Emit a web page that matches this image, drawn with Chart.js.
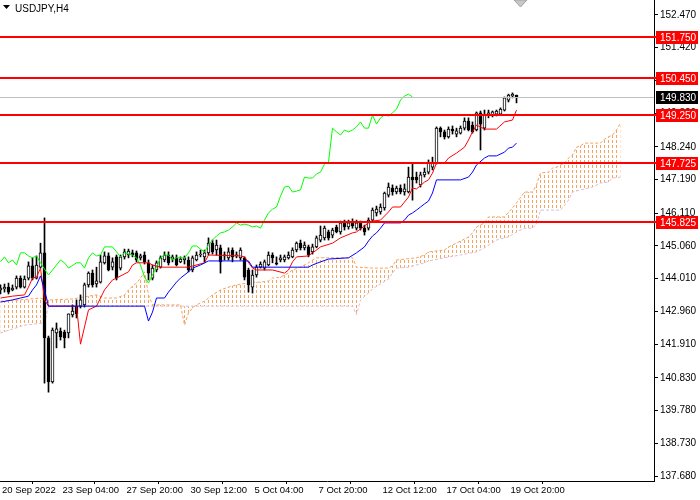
<!DOCTYPE html>
<html><head><meta charset="utf-8">
<script src="https://cdn.jsdelivr.net/npm/chart.js@4.4.1/dist/chart.umd.min.js"></script>
<style>html,body{margin:0;padding:0;background:#fff;overflow:hidden}canvas{display:block}</style>
</head><body>
<canvas id="c" width="700" height="500"></canvas>
<script>
// ---- DATA (USDJPY H4) ----
const symbolTitle = 'USDJPY,H4';
const firstBar = -1; // index of the first candle in the arrays below
const opens  = [143.65,143.68,143.74,143.65,143.74,144.03,143.74,144.03,144.42,144.03,144.38,144.84,142.11,140.70,142.27,142.33,142.30,142.27,142.85,143.13,143.13,143.17,143.81,144.19,143.84,143.90,144.52,144.74,144.38,144.71,144.35,144.71,144.77,144.84,144.84,144.68,144.77,144.52,144.03,144.29,144.38,144.61,144.77,144.64,144.68,144.55,144.61,144.61,144.29,144.61,144.77,144.71,144.84,145.15,144.93,145.00,144.77,144.68,144.93,144.74,144.68,144.68,144.29,143.74,144.13,144.38,144.35,144.45,144.77,144.52,144.61,144.61,144.68,144.71,144.93,145.15,145.00,145.03,144.87,145.03,145.25,145.32,145.51,145.41,145.67,145.51,145.80,145.67,145.80,145.63,145.80,145.63,145.63,145.89,146.12,146.15,146.28,146.69,146.92,146.79,146.92,146.79,146.79,147.27,147.27,147.02,147.34,147.43,147.59,147.72,148.84,148.72,148.56,148.81,148.65,148.68,148.84,149.07,148.94,148.78,149.33,148.84,149.26,149.26,149.29,149.29,149.42,149.74,149.87,149.90];
const highs  = [143.81,143.84,143.87,143.81,144.10,144.10,144.10,144.55,144.68,144.74,145.15,145.96,142.17,142.43,142.59,142.43,142.36,142.88,143.17,143.33,143.49,143.87,144.23,144.29,144.38,144.77,144.87,144.84,144.68,144.77,144.77,144.96,144.96,144.93,144.90,144.80,144.87,144.61,144.45,144.58,144.74,144.87,144.87,144.77,144.77,144.71,144.74,144.71,144.74,144.87,144.93,144.93,145.32,145.25,145.25,145.09,144.87,145.00,145.00,144.87,145.00,144.71,144.35,144.29,144.45,144.55,144.61,144.87,144.84,144.71,144.77,144.77,144.87,145.00,145.19,145.25,145.19,145.09,145.12,145.38,145.70,145.70,145.57,145.63,145.73,145.86,145.89,145.89,145.93,145.89,145.86,145.73,145.96,146.28,146.34,146.41,146.79,147.08,147.02,146.98,147.02,147.05,147.59,147.72,147.43,147.43,147.56,147.82,147.91,148.88,148.88,148.78,148.88,148.91,148.84,148.91,149.17,149.17,149.04,149.36,149.39,149.42,149.42,149.39,149.42,149.49,149.84,149.93,149.97,149.90];
const lows   = [143.52,143.58,143.52,143.62,143.68,143.71,143.71,143.97,143.97,144.00,144.35,140.66,140.37,140.66,141.79,142.04,141.79,142.11,142.78,142.75,143.07,143.10,143.74,143.74,143.74,143.87,144.48,144.26,144.29,143.97,144.29,144.64,144.68,144.71,144.55,144.61,144.48,143.97,143.97,144.23,144.35,144.55,144.45,144.55,144.42,144.52,144.48,144.23,144.23,144.58,144.71,144.55,144.77,144.80,144.77,144.19,144.61,144.61,144.55,144.68,144.61,143.97,143.58,143.55,144.06,144.35,144.29,144.42,144.52,144.45,144.55,144.55,144.64,144.68,144.87,144.93,144.93,144.71,144.80,145.00,145.19,145.25,145.25,145.32,145.48,145.44,145.57,145.60,145.63,145.57,145.57,145.41,145.57,145.86,146.02,146.08,146.21,146.63,146.69,146.73,146.73,146.69,146.76,146.53,147.08,146.95,147.27,147.37,147.50,147.69,148.56,148.49,148.52,148.65,148.56,148.65,148.78,148.75,148.68,148.75,148.14,148.78,149.17,149.20,149.23,149.26,149.39,149.68,149.81,149.65];
const closes = [143.71,143.74,143.58,143.71,144.03,143.74,144.00,144.42,144.03,144.45,144.84,142.11,140.70,142.36,142.40,142.14,142.11,142.88,142.97,142.88,143.33,143.81,144.19,143.81,143.94,144.55,144.74,144.29,144.55,144.03,144.71,144.87,144.90,144.77,144.61,144.74,144.55,144.19,144.35,144.52,144.68,144.77,144.52,144.71,144.45,144.64,144.68,144.29,144.68,144.77,144.80,144.84,145.15,144.87,145.09,144.55,144.74,144.87,144.71,144.77,144.93,144.06,143.81,144.13,144.38,144.48,144.55,144.77,144.68,144.48,144.68,144.71,144.77,144.93,145.15,145.00,145.09,144.77,145.03,145.32,145.41,145.63,145.32,145.57,145.51,145.80,145.67,145.80,145.70,145.80,145.63,145.51,145.89,146.21,146.24,146.31,146.76,146.95,146.79,146.92,146.79,146.89,147.27,147.18,147.18,147.34,147.43,147.72,147.72,148.84,148.72,148.56,148.81,148.75,148.75,148.84,149.07,148.78,148.72,149.33,148.97,149.26,149.33,149.36,149.39,149.45,149.81,149.90,149.93,149.83];

// Ichimoku lines: [bar index, price]
const tenkan = [[-1,143.39],[2,143.45],[5,143.49],[6,143.74],[7,144.03],[8,144.06],[9,144.35],[10,143.33],[11,143.13],[18,143.13],[19,141.91],[21,143.01],[23,143.13],[25,143.65],[27,143.97],[28,144.03],[31,144.23],[32,144.45],[33,144.52],[36,144.52],[37,144.45],[39,144.38],[46,144.38],[50,144.52],[51,144.77],[59,144.74],[60,144.71],[62,144.35],[63,144.29],[67,144.29],[70,144.19],[71,144.29],[72,144.55],[73,144.71],[76,144.74],[77,144.84],[78,144.93],[79,145.03],[82,145.15],[84,145.32],[87,145.48],[88,145.51],[91,145.80],[92,145.86],[94,145.89],[96,146.15],[97,146.31],[99,146.31],[101,146.63],[102,146.92],[103,146.89],[105,147.11],[106,147.18],[107,147.40],[108,147.72],[110,147.72],[111,147.88],[113,148.04],[115,148.23],[116,148.46],[117,148.72],[118,148.94],[120,148.81],[123,148.81],[125,149.04],[127,149.10],[128,149.42]];
const kijun = [[-1,143.26],[2,143.33],[4,143.39],[6,143.45],[7,143.65],[8,143.81],[9,144.10],[10,143.65],[11,143.13],[35,143.13],[36,142.65],[37,142.94],[38,143.39],[40,143.39],[41,143.58],[43,143.90],[44,144.03],[46,144.23],[47,144.35],[49,144.45],[51,144.58],[61,144.58],[62,144.38],[76,144.38],[77,144.45],[79,144.55],[81,144.64],[86,144.68],[88,144.84],[90,145.03],[91,145.22],[92,145.38],[93,145.48],[94,145.63],[95,145.80],[99,145.80],[100,145.89],[101,146.05],[102,146.12],[103,146.21],[104,146.31],[105,146.41],[106,146.50],[107,146.76],[108,147.18],[114,147.18],[116,147.27],[117,147.43],[118,147.66],[120,147.88],[121,147.95],[123,147.95],[125,148.07],[126,148.20],[127,148.23],[128,148.36]];
const chikou = [[-1,144.55],[0,144.71],[1,144.52],[2,144.61],[3,144.45],[4,144.84],[5,144.84],[6,144.74],[7,144.68],[8,144.74],[9,144.52],[10,144.32],[11,144.13],[13,144.45],[14,144.61],[15,144.52],[16,144.35],[18,144.52],[19,144.52],[20,144.35],[21,144.68],[22,144.84],[23,144.74],[24,144.77],[25,145.03],[27,145.03],[28,144.87],[29,144.71],[30,144.84],[32,144.77],[33,144.68],[34,144.45],[35,144.06],[36,143.87],[37,144.13],[38,144.38],[39,144.68],[40,144.77],[41,144.77],[42,144.61],[43,144.68],[45,144.68],[46,144.84],[47,145.06],[48,145.06],[49,144.96],[50,144.87],[51,145.09],[52,145.25],[53,145.38],[54,145.48],[55,145.51],[56,145.57],[57,145.67],[58,145.80],[59,145.73],[60,145.76],[61,145.73],[62,145.67],[63,145.70],[64,145.63],[65,145.89],[66,146.12],[67,146.24],[68,146.31],[69,146.66],[70,146.95],[71,146.98],[72,146.79],[73,146.82],[74,146.86],[75,147.27],[76,147.24],[77,147.24],[78,147.37],[79,147.43],[80,147.69],[81,147.75],[82,148.84],[83,148.72],[84,148.62],[85,148.78],[86,148.72],[87,148.78],[88,148.88],[89,149.04],[90,148.84],[91,148.84],[92,149.26],[93,148.97],[94,149.17],[95,149.26],[96,149.23],[97,149.33],[98,149.45],[99,149.74],[100,149.87],[101,149.93],[102,149.84]];
const senkouA = [[-1,143.29],[4,143.33],[9,143.39],[10,143.33],[12,143.33],[17,143.36],[21,143.45],[23,143.49],[25,143.39],[28,143.39],[30,143.49],[31,143.65],[32,143.77],[33,143.87],[34,144.03],[35,144.23],[36,143.49],[37,143.17],[44,143.17],[45,142.52],[46,142.91],[47,143.07],[48,143.17],[50,143.29],[51,143.39],[52,143.49],[54,143.65],[56,143.74],[58,143.81],[62,143.90],[64,143.90],[66,143.94],[67,144.03],[69,144.06],[71,144.19],[72,144.29],[74,144.38],[76,144.52],[77,144.61],[78,144.68],[87,144.68],[88,144.38],[92,144.35],[96,144.35],[97,144.42],[98,144.61],[103,144.68],[105,144.77],[106,144.87],[110,144.93],[111,145.03],[113,145.15],[116,145.35],[117,145.48],[118,145.67],[120,145.80],[121,145.99],[125,145.99],[127,146.28],[128,146.44],[130,146.79],[132,146.79],[133,147.02],[134,147.40],[136,147.43],[137,147.56],[138,147.59],[140,147.72],[141,147.88],[142,147.98],[143,148.23],[144,148.27],[145,148.36],[149,148.36],[150,148.49],[151,148.56],[152,148.62],[153,148.78],[154,149.00]];
const senkouB = [[-1,142.27],[5,142.52],[10,142.59],[11,143.13],[87,143.13],[88,142.85],[89,143.33],[91,143.55],[92,143.68],[94,143.84],[96,144.00],[97,144.19],[98,144.35],[101,144.38],[105,144.52],[106,144.58],[110,144.68],[114,144.77],[118,144.87],[120,145.00],[123,145.25],[126,145.35],[128,145.51],[130,145.63],[132,145.63],[133,145.76],[134,146.21],[139,146.21],[140,146.37],[141,146.53],[142,146.79],[144,146.86],[146,146.92],[147,146.95],[149,147.08],[151,147.11],[152,147.24],[154,147.27]];

const levels = [151.750, 150.450, 149.250, 147.725, 145.825];
const lastPrice = 149.830;
const yTicks = [152.470,151.420,150.370,149.320,148.240,147.190,146.110,145.060,144.010,142.960,141.910,140.830,139.780,138.730,137.680];
const xTickBars = [-1, 15, 31, 47, 63, 79, 95, 111, 127];
const xTickLabels = ['20 Sep 2022','23 Sep 04:00','27 Sep 20:00','30 Sep 12:00','5 Oct 04:00','7 Oct 20:00','12 Oct 12:00','17 Oct 04:00','19 Oct 20:00'];

// ---- BUILD ----
const canvas = document.getElementById('c');
const ctx0 = canvas.getContext('2d');
const hc = document.createElement('canvas'); hc.width = 4; hc.height = 5;
const hg = hc.getContext('2d'); hg.fillStyle = '#F4A460'; hg.fillRect(0, 0, 1, 3);
const hatch = ctx0.createPattern(hc, 'repeat');

const pts = arr => arr.map(p => ({x: p[0], y: p[1]}));
const wickData = highs.map((h, k) => ({x: firstBar + k, y: [lows[k], h]}));
const bodyData = opens.map((o, k) => ({x: firstBar + k, y: [o, closes[k]]}));
const bodyColors = opens.map((o, k) => closes[k] >= o ? '#FFFFFF' : '#000000');
const FONT = 'Liberation Sans';

const overlay = {
  id: 'overlay',
  afterDatasetsDraw(chart) {
    const {ctx, chartArea, scales: {y}} = chart;
    ctx.save();
    const lp = Math.round(y.getPixelForValue(lastPrice)) + 0.5;
    ctx.strokeStyle = '#C0C0C0'; ctx.lineWidth = 1;
    ctx.beginPath(); ctx.moveTo(chartArea.left, lp); ctx.lineTo(chartArea.right, lp); ctx.stroke();
    ctx.strokeStyle = '#FF0000'; ctx.lineWidth = 2;
    levels.forEach(v => {
      const py = Math.round(y.getPixelForValue(v));
      ctx.beginPath(); ctx.moveTo(chartArea.left, py); ctx.lineTo(chartArea.right + 2, py); ctx.stroke();
    });
    ctx.restore();
  },
  afterDraw(chart) {
    const {ctx, chartArea, scales: {x, y}} = chart;
    ctx.save();
    ctx.font = '10px "' + FONT + '"'; ctx.textBaseline = 'middle'; ctx.textAlign = 'left';
    const box = (v, bg) => {
      const py = Math.round(y.getPixelForValue(v));
      ctx.fillStyle = bg; ctx.fillRect(chartArea.right + 2, py - 6, 42, 13);
      ctx.fillStyle = '#FFFFFF'; ctx.fillText(v.toFixed(3), chartArea.right + 6, py + 1);
    };
    levels.forEach(v => box(v, '#FF0000'));
    box(lastPrice, '#000000');
    // title
    ctx.fillStyle = '#000';
    ctx.beginPath(); ctx.moveTo(3, 5); ctx.lineTo(10, 5); ctx.lineTo(6.5, 9); ctx.closePath(); ctx.fill();
    ctx.textBaseline = 'alphabetic';
    ctx.fillText(symbolTitle, 15, 12);
    // chart shift marker
    const sx = x.getPixelForValue(129);
    ctx.fillStyle = '#C8C8C8'; ctx.strokeStyle = '#A0A0A0'; ctx.lineWidth = 1;
    ctx.beginPath(); ctx.moveTo(sx - 6.5, 0); ctx.lineTo(sx + 6.5, 0); ctx.lineTo(sx, 7); ctx.closePath(); ctx.fill(); ctx.stroke();
    ctx.restore();
  }
};

new Chart(canvas, {
  type: 'line',
  data: {
    datasets: [
      {type:'line', label:'Senkou A', data: pts(senkouA), borderColor:'#F4A460', borderWidth:1, borderDash:[3,2], pointRadius:0, fill:'+1', backgroundColor: hatch, order:6},
      {type:'line', label:'Senkou B', data: pts(senkouB), borderColor:'#D8BFD8', borderWidth:1, borderDash:[3,2], pointRadius:0, fill:false, order:5},
      {type:'bar', label:'wick', data: wickData, backgroundColor:'#000', borderWidth:0, grouped:false, maxBarThickness:1, barPercentage:1, categoryPercentage:1, order:4},
      {type:'bar', label:'body', data: bodyData, backgroundColor: bodyColors, borderColor:'#000', borderWidth:1, borderSkipped:false, grouped:false, maxBarThickness:3, barPercentage:1, categoryPercentage:1, minBarLength:1, order:3},
      {type:'line', label:'Chikou', data: pts(chikou), borderColor:'#00FF00', borderWidth:1, pointRadius:0, fill:false, order:2},
      {type:'line', label:'Tenkan', data: pts(tenkan), borderColor:'#FF0000', borderWidth:1, pointRadius:0, fill:false, order:1},
      {type:'line', label:'Kijun', data: pts(kijun), borderColor:'#0000FF', borderWidth:1, pointRadius:0, fill:false, order:0}
    ]
  },
  options: {
    responsive: false, animation: false, devicePixelRatio: 1,
    layout: {padding: 0},
    plugins: {legend: {display:false}, tooltip: {enabled:false}, title: {display:false}},
    scales: {
      x: {
        type: 'linear', min: -1.125, max: 162.375, offset: false,
        afterBuildTicks: s => { s.ticks = xTickBars.map(b => ({value: Math.max(b - 0.5, s.min + 0.5)})); },
        ticks: {autoSkip:false, maxRotation:0, minRotation:0, align:'start', padding:1, color:'#000',
                font:{family:FONT, size:9.5}, callback: (v, i) => xTickLabels[i]},
        grid: {drawOnChartArea:false, drawTicks:true, tickLength:3, color:'#000'},
        border: {display:true, color:'#000', width:1},
        afterFit: s => { s.height = 19; s.paddingLeft = 0; s.paddingRight = 0; }
      },
      y: {
        type: 'linear', position: 'right', min: 137.52, max: 152.951,
        afterBuildTicks: s => { s.ticks = yTicks.map(v => ({value: v})); },
        ticks: {padding:2, color:'#000', font:{family:FONT, size:10}, callback: v => Number(v).toFixed(3)},
        grid: {drawOnChartArea:false, drawTicks:true, tickLength:4, color:'#000'},
        border: {display:true, color:'#000', width:1},
        afterFit: s => { s.width = 46; s.paddingTop = 0; s.paddingBottom = 0; }
      }
    }
  },
  plugins: [overlay]
});
</script>
</body></html>
